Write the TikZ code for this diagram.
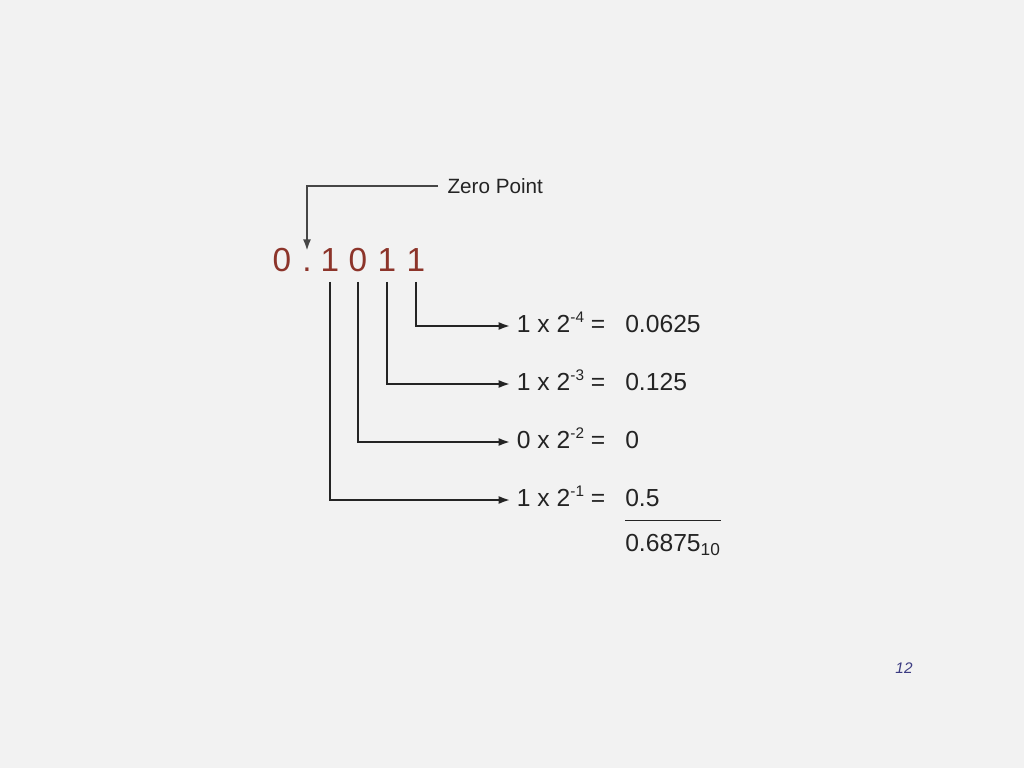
\documentclass[tikz,border=0pt]{standalone}
\usepackage{fontspec}
\setmainfont{Liberation Sans}
\usepackage{tikz}
\usetikzlibrary{arrows.meta}
\definecolor{binred}{RGB}{140,52,42}
\definecolor{bgray}{RGB}{242,242,242}
\definecolor{ink}{RGB}{36,36,36}
\definecolor{zgray}{RGB}{70,70,70}
\definecolor{pgblue}{RGB}{60,60,130}
\newcommand{\bigdig}{\fontsize{25}{30}\selectfont}
\newcommand{\rowf}{\fontsize{18.5}{22}\selectfont}
\newcommand{\zpf}{\fontsize{15.5}{18}\selectfont}
\newcommand{\sexp}[1]{\raisebox{7pt}{\fontsize{11.5}{12}\selectfont #1}}
\tikzstyle{every node}=[inner sep=0pt,text=ink]
\tikzstyle{digit}=[font=\bigdig,text=binred,anchor=base,text height=15pt,text depth=8pt]
\tikzstyle{term}=[font=\rowf,anchor=base west,text height=9pt,text depth=0pt,inner xsep=5pt]
\tikzstyle{value}=[font=\rowf,anchor=base west,text height=9pt,text depth=0pt]
\tikzstyle{wire}=[draw=ink,line width=1.4pt,-{Latex[length=8.5pt,width=6pt]}]
\tikzstyle{zwire}=[draw=zgray,line width=1.4pt,-{Latex[length=8.5pt,width=6pt]}]

\begin{document}
\begin{tikzpicture}[x=0.75pt,y=-0.75pt]
  \fill[bgray] (0,0) rectangle (1024,768);
  \node[digit] (n0) at (282,271) {0};
  \node[digit] (dp) at (307,271) {.};
  \node[digit] (b1) at (330,271) {1};
  \node[digit] (b2) at (358,271) {0};
  \node[digit] (b3) at (387,271) {1};
  \node[digit] (b4) at (416,271) {1};
  \node[font=\zpf,anchor=west,inner xsep=7pt] (zp) at (438,186) {Zero Point};
  \draw[zwire] (zp.west) -| (dp.north);
  \node[term] (t4) at (510,332) {1 x 2\sexp{-4} =};
  \node[value] (v4) at (625,332) {0.0625};
  \node[term] (t3) at (510,390) {1 x 2\sexp{-3} =};
  \node[value] (v3) at (625,390) {0.125};
  \node[term] (t2) at (510,448) {0 x 2\sexp{-2} =};
  \node[value] (v2) at (625,448) {0};
  \node[term] (t1) at (510,506) {1 x 2\sexp{-1} =};
  \node[value] (v1) at (625,506) {0.5};
  \node[value,text height=22.5pt] (sum) at (625,551) {0.6875\textsubscript{10}};
  \draw[ink,line width=1pt] (sum.north west) -- (sum.north east);
  \draw[wire] (b4.south) |- (t4.west);
  \draw[wire] (b3.south) |- (t3.west);
  \draw[wire] (b2.south) |- (t2.west);
  \draw[wire] (b1.south) |- (t1.west);
  \node[font=\itshape\fontsize{11.5}{13}\selectfont,text=pgblue] (pg) at (904,668) {12};
\end{tikzpicture}
\end{document}
